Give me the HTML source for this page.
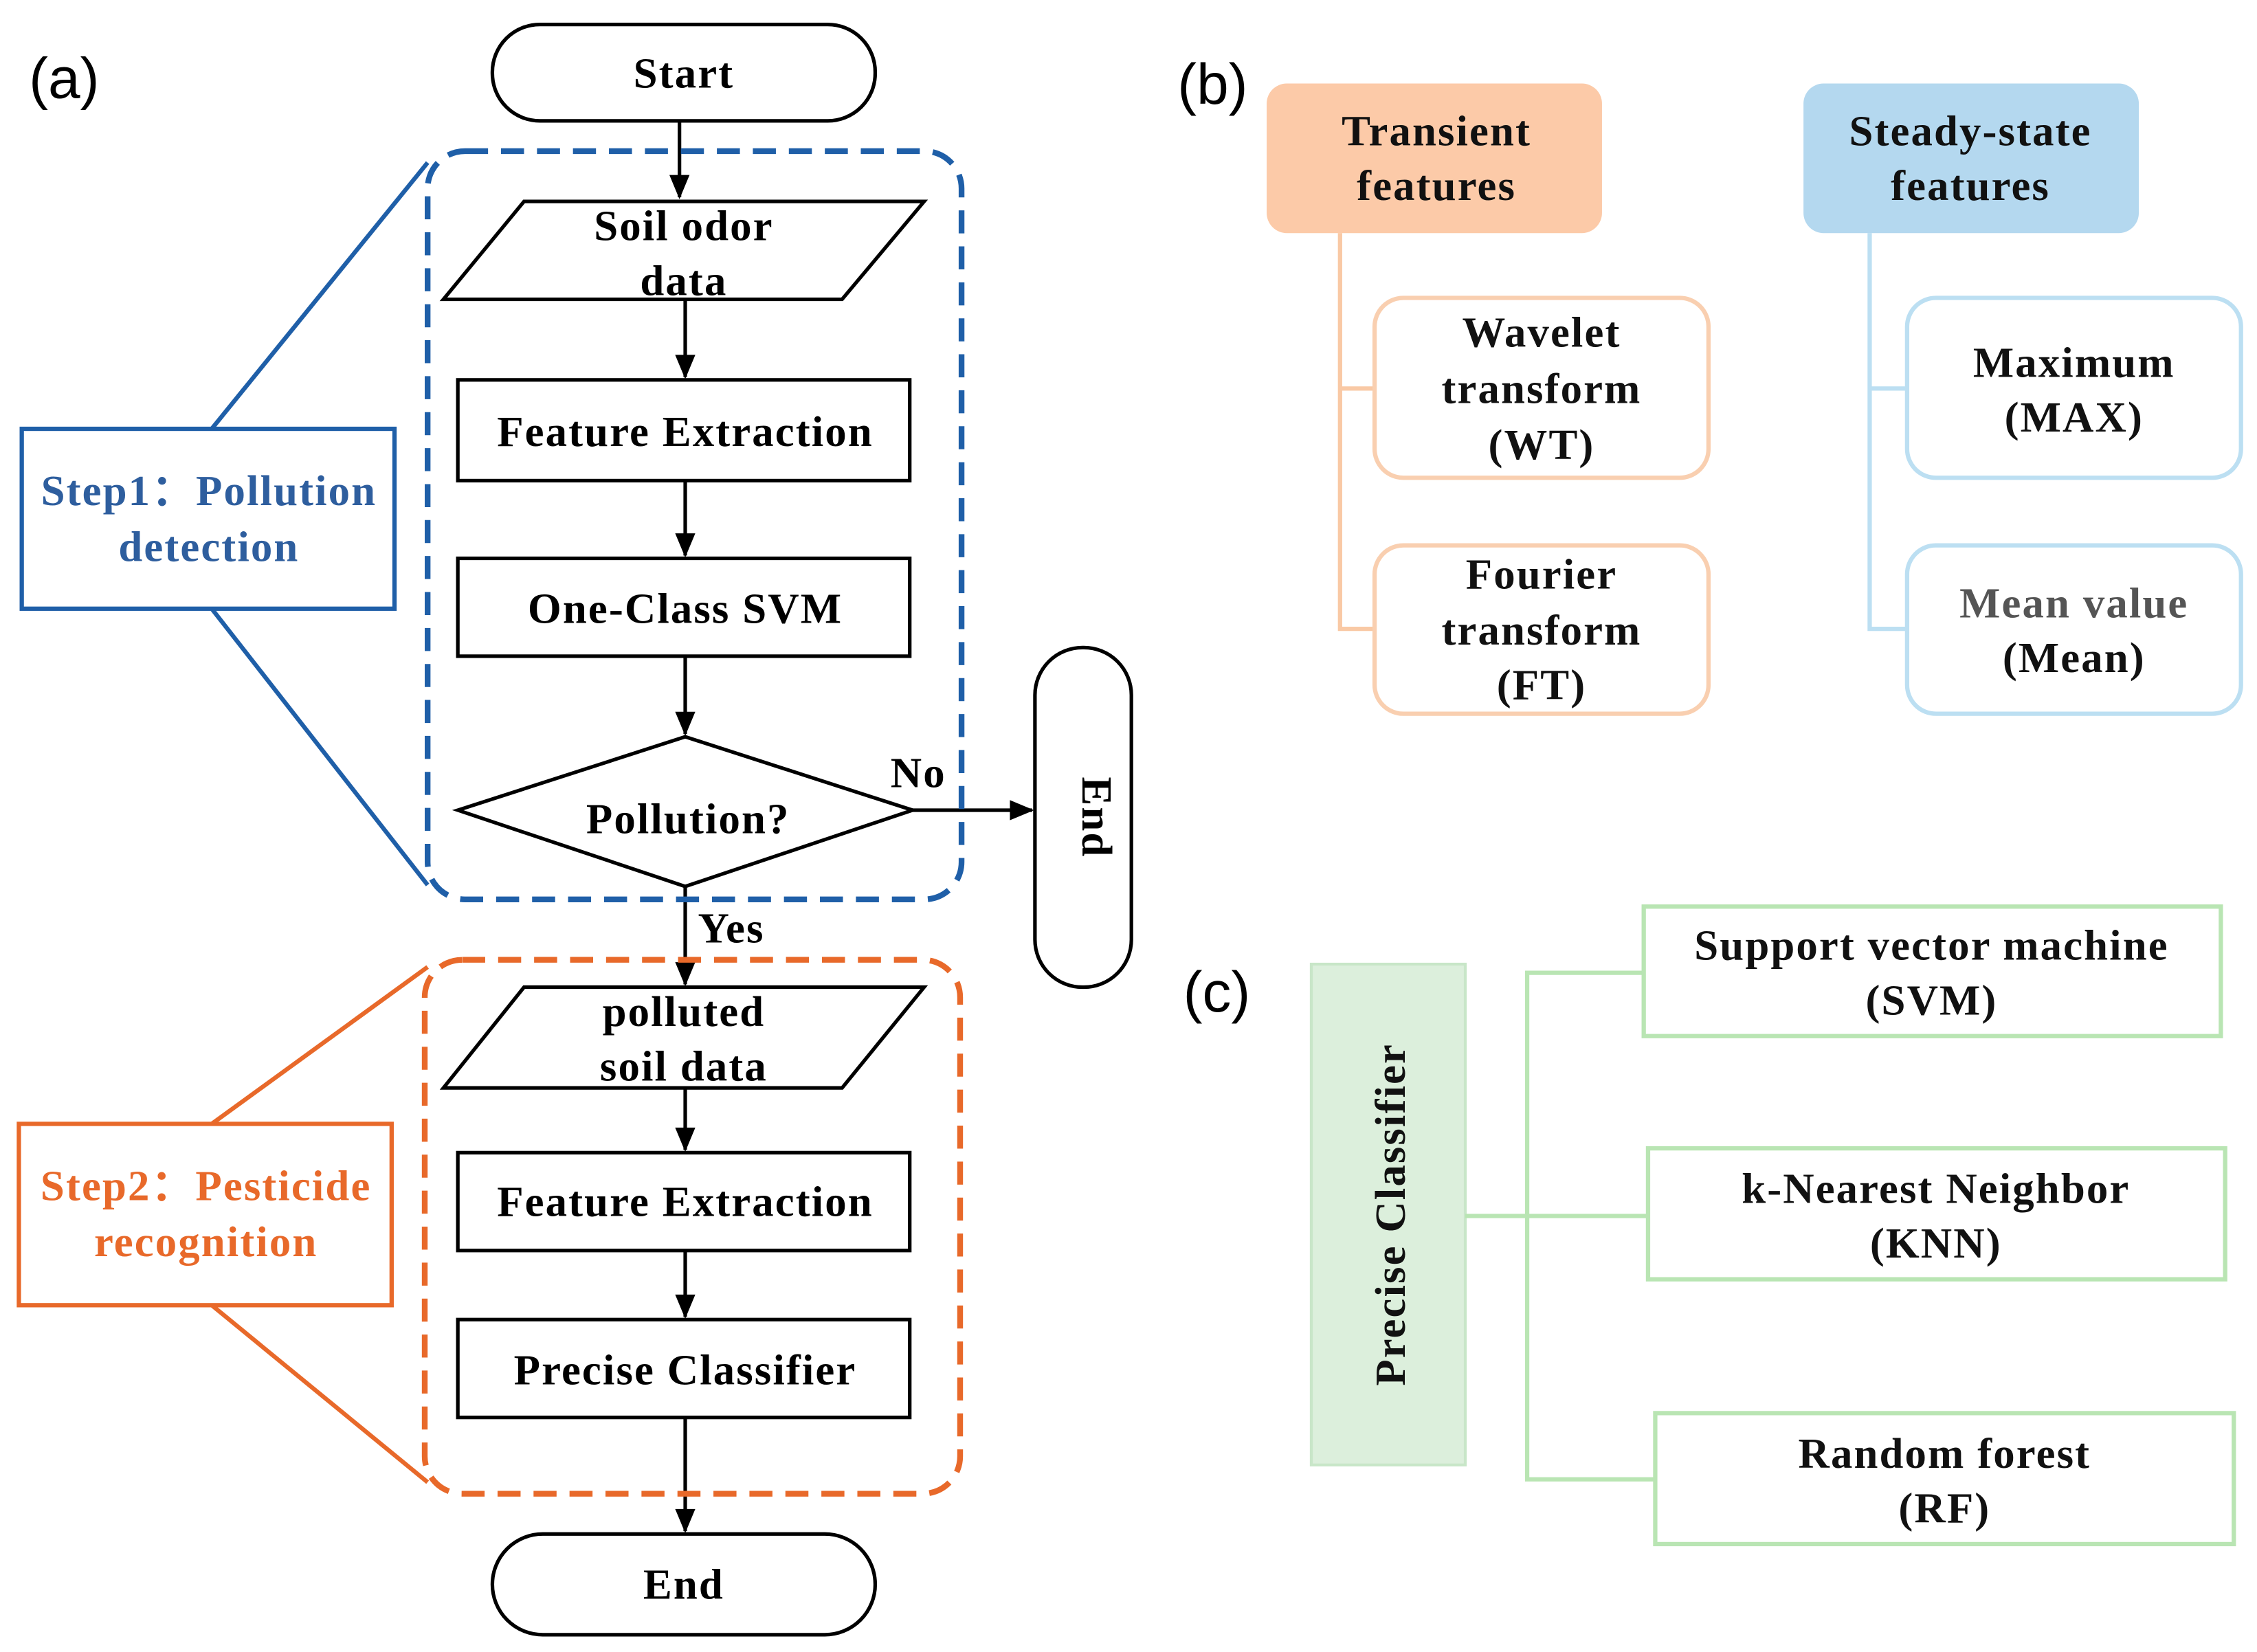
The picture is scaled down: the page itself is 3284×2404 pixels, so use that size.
<!DOCTYPE html>
<html><head><meta charset="utf-8"><style>
html,body{margin:0;padding:0;background:#fff;}
svg{display:block;}
text{font-family:"Liberation Serif",serif;font-weight:bold;}
</style></head><body>
<svg width="3284" height="2404" viewBox="0 0 1568 1148" xmlns="http://www.w3.org/2000/svg">
<defs>
<marker id="ar2" viewBox="0 0 12 10" markerWidth="18" markerHeight="14" refX="11" refY="5" orient="auto" markerUnits="userSpaceOnUse"><path d="M0,0 L12,5 L0,10 z" fill="#000"/></marker></defs>
<rect width="1568" height="1148" fill="#fff"/>
<text x="20" y="68" font-size="40" style="font-family:'Liberation Sans',sans-serif;font-weight:normal">(a)</text>
<text x="818" y="72" font-size="40" style="font-family:'Liberation Sans',sans-serif;font-weight:normal">(b)</text>
<text x="822" y="703" font-size="40" style="font-family:'Liberation Sans',sans-serif;font-weight:normal">(c)</text>

<g stroke="#000" stroke-width="2.5" fill="#fff">
<rect x="342" y="17" width="266" height="67" rx="33"/>
<polygon points="308,208 364,140 642,140 585,208"/>
<rect x="318" y="264" width="314" height="70"/>
<rect x="318" y="388" width="314" height="68"/>
<polygon points="318,563 476,512 634,563 476,616"/>
<rect x="719" y="450" width="67" height="236" rx="33"/>
<polygon points="308,756 364,686 642,686 585,756"/>
<rect x="318" y="801" width="314" height="68"/>
<rect x="318" y="917" width="314" height="68"/>
<rect x="342" y="1066" width="266" height="70" rx="35"/>
</g>
<g stroke="#000" stroke-width="2.5" marker-end="url(#ar2)">
<line x1="472" y1="84" x2="472" y2="137"/>
<line x1="476" y1="208" x2="476" y2="262"/>
<line x1="476" y1="334" x2="476" y2="386"/>
<line x1="476" y1="456" x2="476" y2="510"/>
<line x1="634" y1="563" x2="717" y2="563"/>
<line x1="476" y1="616" x2="476" y2="684"/>
<line x1="476" y1="756" x2="476" y2="799"/>
<line x1="476" y1="869" x2="476" y2="915"/>
<line x1="476" y1="985" x2="476" y2="1064"/>
</g>
<rect x="297" y="105" width="371" height="520" rx="26" fill="none" stroke="#1f5fa8" stroke-width="4" stroke-dasharray="16,9"/>
<rect x="295" y="667" width="372" height="371" rx="26" fill="none" stroke="#e8692a" stroke-width="4" stroke-dasharray="16,9"/>
<rect x="15" y="298" width="259" height="125" fill="#fff" stroke="#1f5fa8" stroke-width="3"/>
<line x1="147" y1="298" x2="297" y2="113" stroke="#1f5fa8" stroke-width="3"/>
<line x1="147" y1="423" x2="297" y2="615" stroke="#1f5fa8" stroke-width="3"/>
<rect x="13" y="781" width="259" height="126" fill="#fff" stroke="#e8692a" stroke-width="3"/>
<line x1="147" y1="781" x2="297" y2="672" stroke="#e8692a" stroke-width="3"/>
<line x1="147" y1="907" x2="297" y2="1030" stroke="#e8692a" stroke-width="3"/>

<g font-size="30" text-anchor="middle" fill="#000" letter-spacing="1">
<text x="475" y="61">Start</text>
<text x="475" y="167">Soil odor</text>
<text x="475" y="205">data</text>
<text x="476" y="310">Feature Extraction</text>
<text x="476" y="433">One-Class SVM</text>
<text x="478" y="579">Pollution?</text>
<text x="638" y="547">No</text>
<text x="508" y="655">Yes</text>
<text x="475" y="713">polluted</text>
<text x="475" y="751">soil data</text>
<text x="476" y="845">Feature Extraction</text>
<text x="476" y="962">Precise Classifier</text>
<text x="475" y="1111">End</text>
<text transform="translate(752,568) rotate(90)">End</text>
<text x="145" y="351" fill="#2e5e9e">Step1：Pollution</text>
<text x="145" y="390" fill="#2e5e9e">detection</text>
<text x="143" y="834" fill="#e8692a">Step2：Pesticide</text>
<text x="143" y="873" fill="#e8692a">recognition</text>
</g>

<rect x="880" y="58" width="233" height="104" rx="14" fill="#fccaa8"/>
<rect x="1253" y="58" width="233" height="104" rx="14" fill="#b4d8ef"/>
<g stroke="#f9c9a5" stroke-width="3" fill="none">
<polyline points="931,162 931,437 955,437"/><line x1="931" y1="270" x2="955" y2="270"/>
<rect x="955" y="207" width="232" height="125" rx="20" stroke="#f9cfb0"/>
<rect x="955" y="379" width="232" height="117" rx="20" stroke="#f9cfb0"/>
</g>
<g stroke="#bcdff2" stroke-width="3" fill="none">
<polyline points="1299,162 1299,437 1325,437"/><line x1="1299" y1="270" x2="1325" y2="270"/>
<rect x="1325" y="207" width="232" height="125" rx="20"/>
<rect x="1325" y="379" width="232" height="117" rx="20"/>
</g>
<g font-size="30" text-anchor="middle" fill="#111" letter-spacing="1">
<text x="998" y="101">Transient</text><text x="998" y="139">features</text>
<text x="1369" y="101">Steady-state</text><text x="1369" y="139">features</text>
<text x="1071" y="241">Wavelet</text><text x="1071" y="280">transform</text><text x="1071" y="319">(WT)</text>
<text x="1071" y="409">Fourier</text><text x="1071" y="448">transform</text><text x="1071" y="486">(FT)</text>
<text x="1441" y="262">Maximum</text><text x="1441" y="300">(MAX)</text>
<text x="1441" y="429" fill="#555">Mean value</text><text x="1441" y="467">(Mean)</text>
</g>

<rect x="911" y="670" width="107" height="348" fill="#dcefdc" stroke="#c8e6c8" stroke-width="2"/>
<g stroke="#b9e5b3" stroke-width="3" fill="none">
<line x1="1018" y1="845" x2="1145" y2="845"/>
<polyline points="1142,676 1061,676 1061,1028 1150,1028"/>
<rect x="1142" y="630" width="401" height="90"/>
<rect x="1145" y="798" width="401" height="91"/>
<rect x="1150" y="982" width="402" height="91"/>
</g>
<g font-size="30" text-anchor="middle" fill="#111" letter-spacing="1">
<text transform="translate(976,844) rotate(-90)">Precise Classifier</text>
<text x="1342" y="667">Support vector machine</text><text x="1342" y="705">(SVM)</text>
<text x="1345" y="836">k-Nearest Neighbor</text><text x="1345" y="874">(KNN)</text>
<text x="1351" y="1020">Random forest</text><text x="1351" y="1058">(RF)</text>
</g>
</svg>
</body></html>
